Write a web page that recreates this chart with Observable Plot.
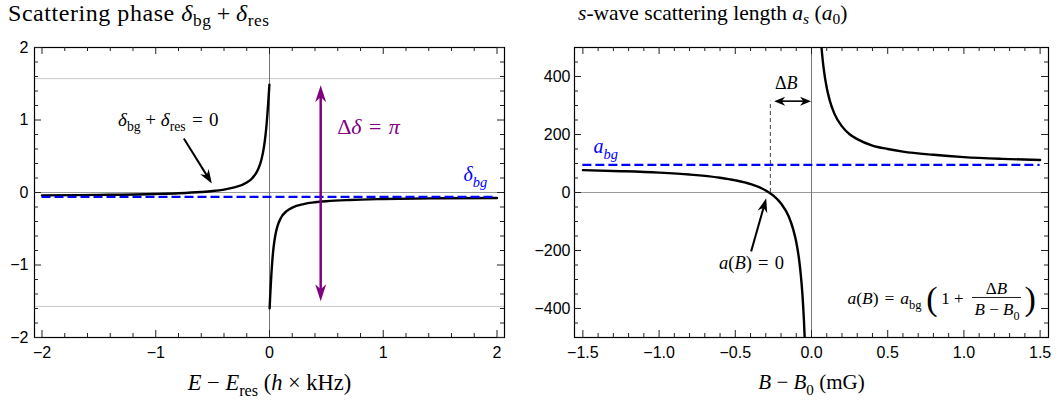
<!DOCTYPE html>
<html><head><meta charset="utf-8">
<script src="https://cdn.jsdelivr.net/npm/d3@7"></script>
<script src="https://cdn.jsdelivr.net/npm/@observablehq/plot@0.6"></script>
<style>
body{margin:0;background:#fff;}
#wrap{position:relative;width:1062px;height:404px;overflow:hidden;background:#fff;}
.panel{position:absolute;top:0;width:531px;height:404px;}
.title{height:40px;font-family:"Liberation Serif","DejaVu Serif",serif;box-sizing:border-box;white-space:nowrap;color:#000;}
.title sub{font-size:72%;vertical-align:-0.28em;line-height:0;}
.title .op{padding:0 0.22em;}
svg{display:block;}
</style></head><body>
<div id="wrap">
  <div class="panel" id="p1" style="left:0"><div class="title" style="padding-left:8px;font-size:24px;line-height:24px;padding-top:1px;letter-spacing:0.55px">Scattering phase <i>δ</i><sub>bg</sub><span class="op">+</span><i>δ</i><sub>res</sub></div></div>
  <div class="panel" id="p2" style="left:531px"><div class="title" style="padding-left:47px;font-size:21.5px;line-height:21.5px;padding-top:3px"><i>s</i>-wave scattering length <i>a<sub>s</sub></i> (<i>a</i><sub>0</sub>)</div></div>
</div>
<script>
// ---------- Left panel: scattering phase ----------
const energyNeg = [-2, -1.5, -1, -0.8, -0.6, -0.5, -0.4, -0.3, -0.2, -0.15, -0.1, -0.07, -0.05, -0.035, -0.025, -0.018, -0.012, -0.008, -0.005, -0.003, -0.001];
const phaseNeg  = [-0.04, -0.033, -0.02, -0.01, 0.007, 0.02, 0.04, 0.073, 0.137, 0.201, 0.32, 0.459, 0.615, 0.792, 0.952, 1.088, 1.219, 1.313, 1.386, 1.436, 1.486];
const energyPos = [0.001, 0.003, 0.005, 0.008, 0.012, 0.018, 0.025, 0.035, 0.05, 0.07, 0.1, 0.15, 0.2, 0.3, 0.4, 0.5, 0.7, 1.0, 1.5, 2.0];
const phasePos  = [-1.598, -1.531, -1.466, -1.37, -1.25, -1.09, -0.936, -0.769, -0.6, -0.465, -0.351, -0.257, -0.209, -0.16, -0.135, -0.12, -0.103, -0.09, -0.08, -0.075];
const deltaBg = -0.06;
const energyRange = [-2, 2];
const phaseGrid = [-1.5708, 1.5708];
const leftXTicks = [-2, -1, 0, 1, 2];
const leftXTickLabels = ["−2", "−1", "0", "1", "2"];
const leftYTicks = [-2, -1, 0, 1, 2];
const leftYTickLabels = ["−2", "−1", "0", "1", "2"];
const leftXLabel = "*E* − *E*_{res} (*h* × kHz)";
const phaseNote = "*δ*_{bg} + *δ*_{res} = 0";
const phaseNotePos = [-0.89, 1.0];
const phaseArrow = {x1: -0.753, y1: 0.745, x2: -0.507, y2: 0.124};
const jump = {x: 0.45, from: -1.5, to: 1.48};
const jumpLabel = "Δ*δ* = *π*";
const jumpLabelPos = [0.87, 0.9];
const bgLabelLeft = "*δ*_{*bg*}";
const bgLabelLeftPos = [1.81, 0.245];

// ---------- Right panel: scattering length ----------
const fieldNeg  = [-1.5, -1.25, -1.0, -0.8, -0.6, -0.5, -0.4, -0.3, -0.25, -0.2, -0.15, -0.12, -0.1, -0.08, -0.07, -0.06, -0.05, -0.045];
const lengthNeg = [77, 73.5, 68.5, 62, 51, 42, 29, 7, -11, -38, -82, -127, -171, -237, -285, -348, -437, -496];
const fieldPos  = [0.066, 0.07, 0.08, 0.1, 0.12, 0.15, 0.2, 0.25, 0.3, 0.4, 0.5, 0.6, 0.8, 1.0, 1.25, 1.5];
const lengthPos = [498, 475, 427, 361, 317, 272, 228, 201, 184, 162, 150, 141, 130, 122, 116, 112];
const aBg = 95;
const fieldRange = [-1.5, 1.5];
const deltaB = 0.27;
const deltaBArrowY = 315;
const rightXTicks = [-1.5, -1, -0.5, 0, 0.5, 1, 1.5];
const rightXTickLabels = ["−1.5", "−1.0", "−0.5", "0.0", "0.5", "1.0", "1.5"];
const rightYTicks = [-400, -200, 0, 200, 400];
const rightYTickLabels = ["−400", "−200", "0", "200", "400"];
const rightXLabel = "*B* − *B*_{0} (mG)";
const deltaBLabel = "Δ*B*";
const deltaBLabelPos = [-0.166, 376];
const bgLabelRight = "*a*_{*bg*}";
const bgLabelRightPos = [-1.35, 157];
const zeroNote = "*a*(*B*) = 0";
const zeroNotePos = [-0.394, -245];
const zeroArrow = {x1: -0.396, y1: -203, x2: -0.297, y2: -20};
const formulaLeft = "*a*(*B*) = *a*_{bg}";
const formulaLeftPos = [0.236, -366];
const formulaOne = "1 +";
const formulaOnePos = [0.925, -366];
const formulaNum = "Δ*B*";
const formulaNumPos = [1.214, -331];
const formulaDen = "*B* − *B*_{0}";
const formulaDenPos = [1.217, -405];
const formulaBar = {x1: 1.056, x2: 1.378, y: -362};
const parenPos = [[0.79, -366, "("], [1.435, -366, ")"]];

// ---------- helpers ----------
const ns = "http://www.w3.org/2000/svg";
const SERIF = "'Liberation Serif','DejaVu Serif',serif";
const SANS = "'Liberation Sans',Arial,sans-serif";
const PURPLE = "#800080", BLUE = "#0000ff";
const SP_BIN = "\u2005", SP_REL = "\u2004";

function headSymbol(angleDeg, L, W, notch) {
  const a = angleDeg * Math.PI / 180, c = Math.cos(a), s = Math.sin(a);
  const pts = [[0, 0], [W, L], [0, notch * L], [-W, L]];
  return {draw(ctx) {
    pts.forEach(([x, y], i) => { const X = x * c - y * s, Y = x * s + y * c; i ? ctx.lineTo(X, Y) : ctx.moveTo(X, Y); });
    ctx.closePath();
  }};
}
function arrowMarks(ar, kx, ky, color, sw, L, W, both) {
  const dx = (ar.x2 - ar.x1) * kx, dy = -(ar.y2 - ar.y1) * ky;
  const ang = Math.atan2(dx, -dy) * 180 / Math.PI;
  const marks = [
    Plot.arrow([ar], {x1: "x1", y1: "y1", x2: "x2", y2: "y2", stroke: color, strokeWidth: sw, headLength: 0,
      insetEnd: L * 0.6, insetStart: both ? L * 0.6 : 0, strokeLinecap: "butt"}),
    Plot.dot([ar], {x: "x2", y: "y2", r: 5, symbol: headSymbol(ang, L, W, 0.7), fill: color, stroke: "none"})
  ];
  if (both) marks.push(Plot.dot([ar], {x: "x1", y: "y1", r: 5, symbol: headSymbol(ang + 180, L, W, 0.7), fill: color, stroke: "none"}));
  return marks;
}
function frameTicks(xd, yd, W, H, xMaj, xMin, yMaj, yMin) {
  const kx = W / (xd[1] - xd[0]), ky = H / (yd[1] - yd[0]);
  const o = {stroke: "#222", strokeWidth: 1};
  const out = [];
  [[xMaj, 7], [xMin, 4]].forEach(([t, l]) => {
    out.push(Plot.ruleX(t, {x: d => d, y1: yd[0], y2: yd[0] + l / ky, ...o}));
    out.push(Plot.ruleX(t, {x: d => d, y1: yd[1], y2: yd[1] - l / ky, ...o}));
  });
  [[yMaj, 7], [yMin, 4]].forEach(([t, l]) => {
    out.push(Plot.ruleY(t, {y: d => d, x1: xd[0], x2: xd[0] + l / kx, ...o}));
    out.push(Plot.ruleY(t, {y: d => d, x1: xd[1], x2: xd[1] - l / kx, ...o}));
  });
  return out;
}
// mini markup: *...* italic, _{...} subscript; math spacing around + − = ×
function richify(svg) {
  svg.querySelectorAll("text").forEach(t => {
    let s = t.textContent;
    if (!/[*]|_\{/.test(s)) return;
    s = s.replace(/ ([+−×]) /g, SP_BIN + "$1" + SP_BIN).replace(/ = /g, SP_REL + "=" + SP_REL);
    const host = t.closest("[font-size]");
    const fs = host ? parseFloat(host.getAttribute("font-size")) : 16;
    while (t.firstChild) t.removeChild(t.firstChild);
    let italic = false, sub = false, buf = "", dy = 0;
    const flush = () => {
      if (!buf) return;
      const sp = document.createElementNS(ns, "tspan");
      sp.textContent = buf;
      if (italic) sp.setAttribute("font-style", "italic");
      if (sub) sp.setAttribute("font-size", (fs * 0.72).toFixed(1));
      if (dy) { sp.setAttribute("dy", dy.toFixed(1)); dy = 0; }
      t.appendChild(sp); buf = "";
    };
    for (let i = 0; i < s.length; i++) {
      const c = s[i];
      if (c === "*") { flush(); italic = !italic; }
      else if (c === "_" && s[i + 1] === "{") { flush(); sub = true; dy += fs * 0.27; i++; }
      else if (c === "}" && sub) { flush(); sub = false; dy -= fs * 0.27; }
      else buf += c;
    }
    flush();
  });
}
const rnd = v => Math.round(v * 1000) / 1000;

// ---------- left plot ----------
{
  const xd = [-2.066, 2.066], yd = [-2, 2];
  const mL = 34, mR = 27, mT = 7, mB = 67, Wd = 531, Ht = 364;
  const W = Wd - mL - mR, H = Ht - mT - mB;
  const kx = W / (xd[1] - xd[0]), ky = H / (yd[1] - yd[0]);
  const neg = energyNeg.map((e, i) => ({e, d: phaseNeg[i]}));
  const pos = energyPos.map((e, i) => ({e, d: phasePos[i]}));
  const xMin = d3.range(-2, 2.0001, 0.2).map(rnd).filter(v => !Number.isInteger(v));
  const yMin = d3.range(-1.8, 1.8001, 0.2).map(rnd).filter(v => !Number.isInteger(v));
  const txt = (data, pos, opts) => Plot.text([data], {x: () => pos[0], y: () => pos[1], text: d => d, fontFamily: SERIF, ...opts});
  const plot = Plot.plot({
    width: Wd, height: Ht, marginLeft: mL, marginRight: mR, marginTop: mT, marginBottom: mB,
    x: {domain: xd, axis: null}, y: {domain: yd, axis: null},
    style: {background: "transparent"},
    marks: [
      Plot.ruleY(phaseGrid, {stroke: "#c8c8c8", strokeWidth: 1}),
      Plot.ruleY([0], {stroke: "#999", strokeWidth: 1}),
      Plot.ruleX([0], {stroke: "#777", strokeWidth: 1}),
      Plot.line(neg, {x: "e", y: "d", curve: "monotone-x", stroke: "#000", strokeWidth: 2.4, clip: true}),
      Plot.line(pos, {x: "e", y: "d", curve: "monotone-x", stroke: "#000", strokeWidth: 2.4, clip: true}),
      Plot.ruleY([deltaBg], {x1: energyRange[0], x2: energyRange[1], stroke: BLUE, strokeWidth: 2.3, strokeDasharray: "9,4"}),
      ...arrowMarks({x1: jump.x, y1: jump.from, x2: jump.x, y2: jump.to}, kx, ky, PURPLE, 2.5, 17, 5.5, true),
      ...arrowMarks(phaseArrow, kx, ky, "#000", 2, 14, 5, false),
      txt(phaseNote, phaseNotePos, {fontSize: 19, fill: "#000"}),
      txt(jumpLabel, jumpLabelPos, {fontSize: 22, fill: PURPLE}),
      txt(bgLabelLeft, bgLabelLeftPos, {fontSize: 20, fill: BLUE}),
      Plot.frame({stroke: "#000", strokeWidth: 1.2}),
      ...frameTicks(xd, yd, W, H, leftXTicks, xMin, leftYTicks, yMin),
      Plot.axisX(leftXTicks, {anchor: "bottom", tickSize: 0, tickPadding: 9, fontSize: 16, fontFamily: SANS, label: null,
        tickFormat: d => leftXTickLabels[leftXTicks.indexOf(d)]}),
      Plot.axisY(leftYTicks, {anchor: "left", tickSize: 0, tickPadding: 6, fontSize: 16, fontFamily: SANS, label: null,
        tickFormat: d => leftYTickLabels[leftYTicks.indexOf(d)]}),
      Plot.text([leftXLabel], {frameAnchor: "bottom", lineAnchor: "middle", dy: 45, text: d => d, fontSize: 22.5, fontFamily: SERIF, fill: "#000"})
    ]
  });
  richify(plot);
  document.getElementById("p1").appendChild(plot);
}

// ---------- right plot ----------
{
  const xd = [-1.555, 1.555], yd = [-500, 500];
  const mL = 43, mR = 14, mT = 7, mB = 67, Wd = 531, Ht = 364;
  const W = Wd - mL - mR, H = Ht - mT - mB;
  const kx = W / (xd[1] - xd[0]), ky = H / (yd[1] - yd[0]);
  const neg = fieldNeg.map((b, i) => ({b, a: lengthNeg[i]}));
  const pos = fieldPos.map((b, i) => ({b, a: lengthPos[i]}));
  const xMin = d3.range(-1.5, 1.5001, 0.1).map(rnd).filter(v => !rightXTicks.includes(v));
  const yMin = d3.range(-450, 451, 50).filter(v => !rightYTicks.includes(v));
  const txt = (data, pos, opts) => Plot.text([data], {x: () => pos[0], y: () => pos[1], text: d => d, fontFamily: SERIF, ...opts});
  const plot = Plot.plot({
    width: Wd, height: Ht, marginLeft: mL, marginRight: mR, marginTop: mT, marginBottom: mB,
    x: {domain: xd, axis: null}, y: {domain: yd, axis: null},
    style: {background: "transparent"},
    marks: [
      Plot.ruleY([0], {stroke: "#999", strokeWidth: 1}),
      Plot.ruleX([0], {stroke: "#777", strokeWidth: 1}),
      Plot.ruleX([-deltaB], {y1: 0, y2: deltaBArrowY, stroke: "#444", strokeWidth: 1, strokeDasharray: "4,3"}),
      Plot.ruleY([aBg], {x1: fieldRange[0], x2: fieldRange[1], stroke: BLUE, strokeWidth: 2.3, strokeDasharray: "9,4"}),
      Plot.line(neg, {x: "b", y: "a", curve: "monotone-x", stroke: "#000", strokeWidth: 2.4, clip: true}),
      Plot.line(pos, {x: "b", y: "a", curve: "monotone-x", stroke: "#000", strokeWidth: 2.4, clip: true}),
      ...arrowMarks({x1: -deltaB + 0.025, y1: deltaBArrowY, x2: -0.003, y2: deltaBArrowY}, kx, ky, "#000", 1.6, 11, 4.5, true),
      ...arrowMarks(zeroArrow, kx, ky, "#000", 2, 14, 5, false),
      txt(deltaBLabel, deltaBLabelPos, {fontSize: 18, fill: "#000"}),
      txt(bgLabelRight, bgLabelRightPos, {fontSize: 20, fill: BLUE}),
      txt(zeroNote, zeroNotePos, {fontSize: 18.5, fill: "#000"}),
      txt(formulaLeft, formulaLeftPos, {fontSize: 17.5, fill: "#000", textAnchor: "start"}),
      txt(formulaOne, formulaOnePos, {fontSize: 17, fill: "#000"}),
      txt(formulaNum, formulaNumPos, {fontSize: 17, fill: "#000"}),
      txt(formulaDen, formulaDenPos, {fontSize: 17, fill: "#000"}),
      Plot.ruleY([formulaBar.y], {x1: formulaBar.x1, x2: formulaBar.x2, stroke: "#000", strokeWidth: 0.9}),
      Plot.text(parenPos, {x: d => d[0], y: d => d[1], text: d => d[2], fontSize: 34, fontFamily: SERIF, fill: "#000"}),
      Plot.frame({stroke: "#000", strokeWidth: 1.2}),
      ...frameTicks(xd, yd, W, H, rightXTicks, xMin, rightYTicks, yMin),
      Plot.axisX(rightXTicks, {anchor: "bottom", tickSize: 0, tickPadding: 9, fontSize: 16, fontFamily: SANS, label: null,
        tickFormat: d => rightXTickLabels[rightXTicks.indexOf(d)]}),
      Plot.axisY(rightYTicks, {anchor: "left", tickSize: 0, tickPadding: 4, fontSize: 16, fontFamily: SANS, label: null,
        tickFormat: d => rightYTickLabels[rightYTicks.indexOf(d)]}),
      Plot.text([rightXLabel], {frameAnchor: "bottom", lineAnchor: "middle", dy: 45, text: d => d, fontSize: 21, fontFamily: SERIF, fill: "#000"})
    ]
  });
  richify(plot);
  document.getElementById("p2").appendChild(plot);
}
</script>
</body></html>
